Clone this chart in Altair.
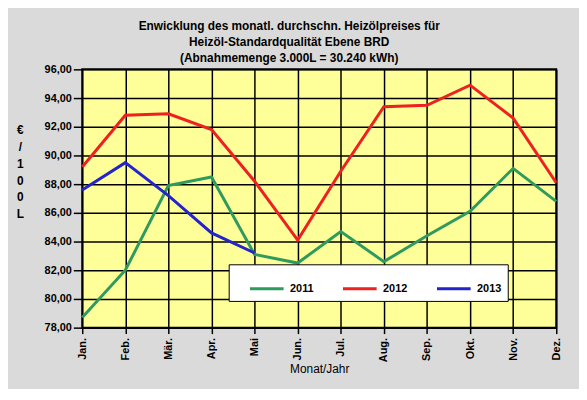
import altair as alt
import pandas as pd

months = ["Jan.", "Feb.", "Mär.", "Apr.", "Mai", "Jun.", "Jul.", "Aug.", "Sep.", "Okt.", "Nov.", "Dez."]
y2011 = [78.7, 82.0, 87.9, 88.5, 83.1, 82.5, 84.7, 82.6, 84.4, 86.1, 89.1, 86.8]
y2012 = [89.2, 92.8, 92.9, 91.8, 88.2, 84.1, 88.9, 93.4, 93.5, 94.9, 92.6, 88.1]
y2013 = [87.6, 89.5, 87.2, 84.6, 83.2]
series = ["2011", "2012", "2013"]
colors = ["#2f9a5e", "#ee2020", "#2424cc"]

rows = []
for name, vals in zip(series, [y2011, y2012, y2013]):
    for m, v in zip(months, vals):
        rows.append({"Monat": m, "Preis": v, "Jahr": name})
df = pd.DataFrame(rows)

FONT = "Liberation Sans"

chart = alt.Chart(df).mark_line(strokeWidth=3).encode(
    x=alt.X("Monat:N", sort=months,
            scale=alt.Scale(type="point", padding=0),
            axis=alt.Axis(title="Monat/Jahr", labelAngle=270, labelAlign="right",
                          labelBaseline="middle", labelFontWeight="bold", labelFontSize=11,
                          labelFont=FONT, labelColor="black", labelPadding=4,
                          titleFont=FONT, titleFontSize=12, titleFontWeight="normal",
                          titleColor="black", titlePadding=2,
                          tickColor="black", tickSize=6, tickWidth=1.5,
                          domain=False, grid=True, gridColor="black", gridWidth=1.5, gridOpacity=1)),
    y=alt.Y("Preis:Q",
            scale=alt.Scale(domain=[78, 96], nice=False, zero=False),
            axis=alt.Axis(values=list(range(78, 97, 2)),
                          labelExpr="replace(format(datum.value, '.2f'), '.', ',')",
                          title=["€", "/", "1", "0", "0", "L"], titleAngle=0,
                          titleLineHeight=17, titleFontSize=12, titleFontWeight="bold",
                          titleFont=FONT, titleColor="black", titleAlign="center",
                          titleBaseline="middle", titleX=-63, titleY=61,
                          labelFont=FONT, labelFontSize=11, labelFontWeight="bold",
                          labelColor="black", labelPadding=2,
                          tickColor="black", tickSize=9, tickWidth=1.5,
                          domain=False, grid=True, gridColor="black", gridWidth=1.5, gridOpacity=1)),
    color=alt.Color("Jahr:N", scale=alt.Scale(domain=series, range=colors),
                    legend=alt.Legend(title=None, orient="none", legendX=148, legendY=197,
                                      direction="horizontal", columns=3,
                                      symbolType="stroke", symbolSize=1156, symbolStrokeWidth=3,
                                      symbolOffset=14, labelOffset=5, columnPadding=14,
                                      labelFont=FONT, labelFontSize=11, labelFontWeight="bold",
                                      labelColor="black",
                                      labelExpr="datum.label == '2013' ? '2013      ' : datum.label",
                                      fillColor="white", strokeColor="black", padding=6,
                                      cornerRadius=0)),
).properties(
    width=479, height=261,
    title=alt.TitleParams(
        text=["Enwicklung des monatl. durchschn. Heizölpreises für",
              "Heizöl-Standardqualität Ebene BRD",
              "(Abnahmemenge 3.000L = 30.240 kWh)"],
        font=FONT, fontSize=12, fontWeight="bold", color="black",
        lineHeight=16.5, anchor="middle", frame="bounds", offset=-2),
    background="#dadada",
    padding={"left": 8, "top": 10, "right": 17, "bottom": 12},
).configure_view(
    fill="#ffff99", stroke="black", strokeWidth=2
)

chart.save("out.html", embed_options={"renderer": "svg", "actions": False})
